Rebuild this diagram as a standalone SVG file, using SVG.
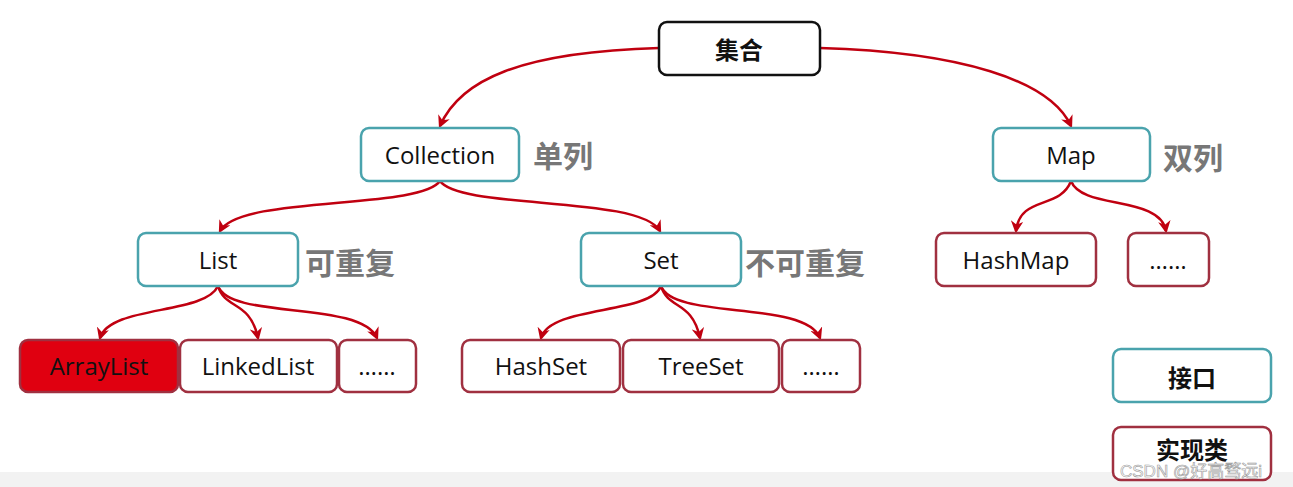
<svg xmlns="http://www.w3.org/2000/svg" width="1293" height="487" viewBox="0 0 1293 487">
<style>
.n{fill:#fff;stroke-width:2.5}
.i{stroke:#4aa3ad}
.c{stroke:#a03040}
.t{font-family:"Open Sans","Noto Sans",sans-serif;font-size:24px;fill:#111;text-anchor:middle;dominant-baseline:central}
.z{font-family:"Noto Sans CJK SC",sans-serif;font-size:24px;fill:#111;text-anchor:middle;dominant-baseline:central;font-weight:bold}
.g{font-family:"Noto Sans CJK SC",sans-serif;font-size:30px;fill:#777;font-weight:bold;dominant-baseline:central}
.e{fill:none;stroke:#c00010;stroke-width:2.5;marker-end:url(#a)}
</style>
<defs><marker id="a" viewBox="0 0 10 10" refX="8" refY="5" markerWidth="5" markerHeight="5" orient="auto"><path d="M0,0 L10,5 L0,10 L3,5 Z" fill="#c00010"/></marker></defs>
<rect width="1293" height="487" fill="#fff"/>
<rect y="472" width="1293" height="15" fill="#f2f2f2"/>
<g id="connectors">
<path class="e" d="M659,48 C520,52 460,80 440,126"/>
<path class="e" d="M820,48 C960,52 1050,80 1071,126"/>
<path class="e" d="M440,181 C420,210 240,195 220,231"/>
<path class="e" d="M440,181 C460,210 640,195 660,231"/>
<path class="e" d="M218,286 C205,315 110,305 100,338"/>
<path class="e" d="M218,286 C225,310 250,300 258,338"/>
<path class="e" d="M218,286 C230,320 360,300 377,338"/>
<path class="e" d="M661,286 C650,315 550,305 541,338"/>
<path class="e" d="M661,286 C668,310 692,300 700,338"/>
<path class="e" d="M661,286 C673,320 805,300 820,338"/>
<path class="e" d="M1071,181 C1060,210 1020,195 1016,231"/>
<path class="e" d="M1071,181 C1082,210 1160,195 1166,231"/>
</g>
<g id="n-jihe"><rect x="659" y="22" width="161" height="53" rx="8" class="n" stroke="#111"/><text x="739" y="48" class="z">集合</text></g>
<g id="n-collection"><rect x="361" y="128" width="158" height="53" rx="8" class="n i"/><text x="440" y="154" class="t">Collection</text></g>
<text x="533" y="154" class="g">单列</text>
<g id="n-map"><rect x="993" y="128" width="157" height="53" rx="8" class="n i"/><text x="1071" y="154" class="t">Map</text></g>
<text x="1163" y="156" class="g">双列</text>
<g id="n-list"><rect x="138" y="233" width="160" height="53" rx="8" class="n i"/><text x="218" y="259" class="t">List</text></g>
<text x="305" y="261" class="g">可重复</text>
<g id="n-set"><rect x="581" y="233" width="160" height="53" rx="8" class="n i"/><text x="661" y="259" class="t">Set</text></g>
<text x="745" y="261" class="g">不可重复</text>
<g id="n-hashmap"><rect x="936" y="233" width="160" height="53" rx="8" class="n c"/><text x="1016" y="259" class="t">HashMap</text></g>
<g id="n-mapmore"><rect x="1128" y="233" width="81" height="53" rx="8" class="n c"/><text x="1168" y="259" class="t">……</text></g>
<g id="n-arraylist"><rect x="20" y="340" width="158" height="52" rx="8" fill="#e00010" stroke="#a03040" stroke-width="2.5"/><text x="99" y="365" class="t">ArrayList</text></g>
<g id="n-linkedlist"><rect x="180" y="340" width="157" height="52" rx="8" class="n c"/><text x="258" y="365" class="t">LinkedList</text></g>
<g id="n-listmore"><rect x="339" y="340" width="77" height="52" rx="8" class="n c"/><text x="377" y="365" class="t">……</text></g>
<g id="n-hashset"><rect x="462" y="340" width="158" height="52" rx="8" class="n c"/><text x="541" y="365" class="t">HashSet</text></g>
<g id="n-treeset"><rect x="623" y="340" width="156" height="52" rx="8" class="n c"/><text x="701" y="365" class="t">TreeSet</text></g>
<g id="n-setmore"><rect x="782" y="340" width="78" height="52" rx="8" class="n c"/><text x="821" y="365" class="t">……</text></g>
<g id="n-legend-iface"><rect x="1113" y="349" width="158" height="53" rx="8" class="n i"/><text x="1192" y="376" class="z">接口</text></g>
<g id="n-legend-impl"><rect x="1113" y="427" width="158" height="53" rx="8" class="n c"/><text x="1192" y="448" class="z">实现类</text></g>
<text x="1120" y="471" font-family="'Liberation Sans','Noto Sans CJK SC',sans-serif" font-size="17" fill="#fff" stroke="#999" stroke-width="0.6" dominant-baseline="central">CSDN @好高骛远i</text>
</svg>
